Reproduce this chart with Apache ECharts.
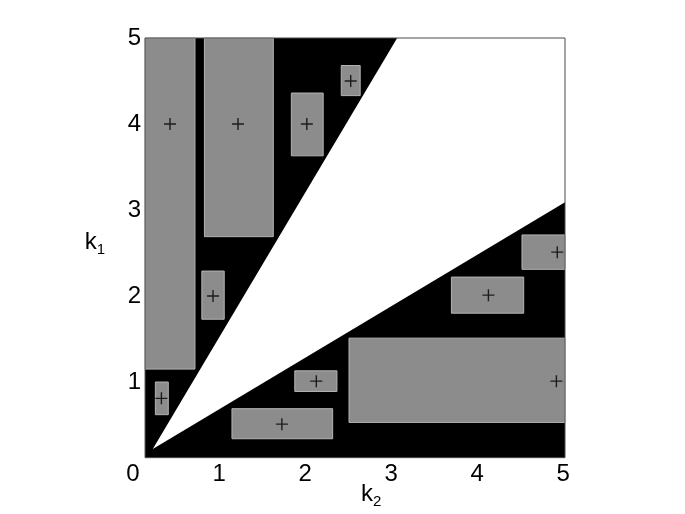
<!DOCTYPE html>
<html>
<head>
<meta charset="utf-8">
<script src="https://cdn.jsdelivr.net/npm/echarts@6/dist/echarts.min.js"></script>
<style>
  html, body { margin: 0; padding: 0; background: #fff; }
  #chart { width: 685px; height: 514px; }
</style>
</head>
<body>
<div id="chart"></div>
<script>
// tick labels
const xTicks = [0, 1, 2, 3, 4, 5];
const yTicks = [1, 2, 3, 4, 5];

// plot box (k2, k1)
const boxK2 = [0.14, 5.02];
const boxK1 = [0.12, 5.0];

// white wedge between the two lines
const wedgeK2 = [0.23, 3.07, 5.02, 5.02];
const wedgeK1 = [0.22, 5.0, 5.0, 3.09];

// gray rectangles
const rectK2Lo = [0.14, 0.83, 1.84, 2.42, 0.80, 0.26, 1.15, 1.88, 2.51, 3.70, 4.52];
const rectK2Hi = [0.72, 1.63, 2.21, 2.64, 1.06, 0.41, 2.32, 2.37, 5.02, 4.54, 5.02];
const rectK1Lo = [1.15, 2.69, 3.63, 4.33, 1.73, 0.62, 0.34, 0.89, 0.53, 1.80, 2.31];
const rectK1Hi = [5.00, 5.00, 4.36, 4.68, 2.29, 1.00, 0.69, 1.13, 1.51, 2.22, 2.71];

// "+" markers
const plusK2 = [0.43, 1.22, 2.02, 2.53, 0.93, 0.33, 1.73, 2.13, 4.92, 4.13, 4.93];
const plusK1 = [4.00, 4.00, 4.00, 4.50, 2.00, 0.81, 0.51, 1.01, 1.01, 2.01, 2.51];

const FONT = 'Liberation Sans, Arial, sans-serif';

const chart = echarts.init(document.getElementById('chart'));

function polyItem(xs, ys, style) {
  return function (params, api) {
    const pts = xs.map((x, i) => api.coord([x, ys[i]]));
    return { type: 'polygon', shape: { points: pts }, style: style, silent: true };
  };
}

const boxXs = [boxK2[0], boxK2[1], boxK2[1], boxK2[0]];
const boxYs = [boxK1[0], boxK1[0], boxK1[1], boxK1[1]];

const rectData = rectK2Lo.map((v, i) => [v, rectK1Lo[i], rectK2Hi[i], rectK1Hi[i]]);
const plusData = plusK2.map((v, i) => [v, plusK1[i]]);

const subRich = {
  k: { fontSize: 24, lineHeight: 30, fontFamily: FONT },
  s: { fontSize: 15, lineHeight: 13, verticalAlign: 'bottom', fontFamily: FONT }
};

var option = {
  animation: false,
  grid: { left: 133, right: 120, top: 38, bottom: 46 },
  xAxis: {
    type: 'value',
    min: 0,
    max: 5.02,
    interval: 1,
    axisLine: { show: false },
    axisTick: { show: false },
    splitLine: { show: false },
    axisLabel: {
      margin: -6,
      color: '#000',
      fontSize: 24,
      fontFamily: FONT,
      formatter: v => xTicks.includes(v) ? String(v) : ''
    }
  },
  yAxis: {
    type: 'value',
    min: 0,
    max: 5,
    interval: 1,
    axisLine: { show: false },
    axisTick: { show: false },
    splitLine: { show: false },
    axisLabel: {
      margin: -8,
      color: '#000',
      fontSize: 24,
      fontFamily: FONT,
      formatter: v => yTicks.includes(v) ? String(v) : ''
    }
  },
  graphic: [
    {
      type: 'text',
      style: {
        text: '{k|k}{s|1}',
        x: 105, y: 242,
        align: 'right', verticalAlign: 'middle',
        fill: '#000',
        rich: subRich
      }
    },
    {
      type: 'text',
      style: {
        text: '{k|k}{s|2}',
        x: 361, y: 494,
        align: 'left', verticalAlign: 'middle',
        fill: '#000',
        rich: subRich
      }
    }
  ],
  series: [
    {
      type: 'custom',
      data: [0],
      z: 1,
      renderItem: polyItem(boxXs, boxYs, { fill: '#000' })
    },
    {
      type: 'custom',
      data: [0],
      z: 2,
      renderItem: polyItem(wedgeK2, wedgeK1, { fill: '#fff' })
    },
    {
      type: 'custom',
      data: rectData,
      z: 3,
      renderItem: function (params, api) {
        const p0 = api.coord([api.value(0), api.value(3)]);
        const p1 = api.coord([api.value(2), api.value(1)]);
        return {
          type: 'rect',
          shape: { x: p0[0], y: p0[1], width: p1[0] - p0[0], height: p1[1] - p0[1] },
          style: { fill: '#8c8c8c', stroke: '#b4b4b4', lineWidth: 1 },
          silent: true
        };
      }
    },
    {
      type: 'scatter',
      data: plusData,
      z: 4,
      symbol: 'path://M0,5.3h12v1.4h-12zM5.3,0h1.4v12h-1.4z',
      symbolSize: 12,
      itemStyle: { color: '#000' },
      silent: true
    },
    {
      type: 'custom',
      data: [0],
      z: 5,
      renderItem: polyItem(boxXs, boxYs, { fill: 'none', stroke: '#4a4a4a', lineWidth: 1 })
    }
  ]
};

option && chart.setOption(option);
</script>
</body>
</html>
